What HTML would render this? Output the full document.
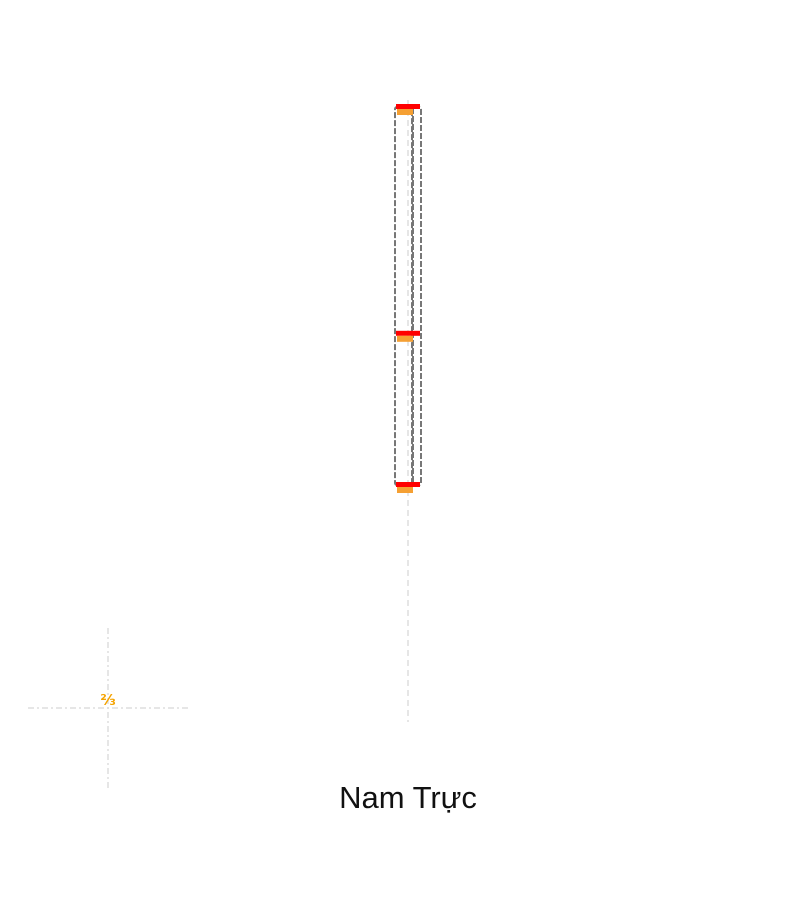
<!DOCTYPE html>
<html><head><meta charset="utf-8"><style>
html,body{margin:0;padding:0;background:#fff;width:800px;height:900px;overflow:hidden}
svg{display:block}
</style></head><body>
<svg id="chart" width="800" height="900" xmlns="http://www.w3.org/2000/svg">
<line x1="408" y1="100" x2="408" y2="722" stroke="#ddd" stroke-width="1.5" stroke-dasharray="6,4"/>
<line x1="28" y1="708" x2="188" y2="708" stroke="#ddd" stroke-width="1.5" stroke-dasharray="6,3,2,3"/>
<line x1="108" y1="628" x2="108" y2="788" stroke="#ddd" stroke-width="1.5" stroke-dasharray="6,3,2,3"/>
<text x="108" y="705" font-family="'DejaVu Sans',sans-serif" font-size="15" fill="#f5a300" text-anchor="middle" font-weight="bold">⅔</text>
<g id="marks"></g>
<text x="408" y="808" text-anchor="middle" font-family="'Liberation Sans','DejaVu Sans',sans-serif" font-size="31" fill="#111">Nam Trực</text>
</svg>
<script>
const levels = [100, 40, 0];
const redValues = [100, 40, 0];
const orangeValues = [100, 40, 0];
const boxRanges = [[0, 100], [0, 100]];
const ns = "http://www.w3.org/2000/svg";
const y = v => 485 - v * 3.78;
const g = document.getElementById('marks');
function mk(tag, attrs){const e=document.createElementNS(ns,tag);for(const k in attrs)e.setAttribute(k,attrs[k]);g.appendChild(e);return e;}
const boxX = [[395, 18], [412, 9]];
boxRanges.forEach((r, i) => {
  const e = mk('rect', {x: boxX[i][0], y: y(r[1]), width: boxX[i][1], height: y(r[0]) - y(r[1]), fill: 'none', stroke: '#777', 'stroke-width': 2, 'stroke-dasharray': '6,2', rx: 2});
  
  
});
redValues.forEach((v, i) => {
  const e = mk('rect', {x: 396, y: y(v) - 3, width: 24, height: 5, fill: '#ff0000'});
  
  
});
orangeValues.forEach((v, i) => {
  const e = mk('rect', {x: 397, y: y(v) + 2, width: 16, height: 6, fill: '#f5a033'});
  
  
});
</script>
</body></html>
